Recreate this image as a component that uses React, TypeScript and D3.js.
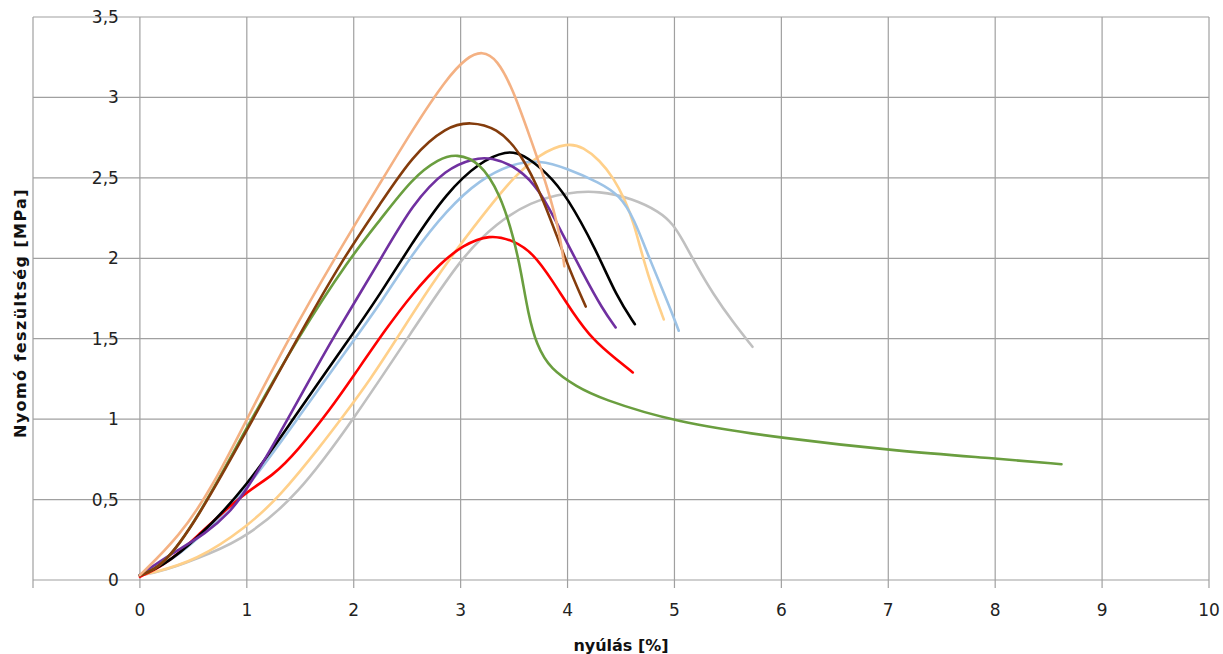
import React from "react";
import * as d3 from "d3";

type P = [number, number];

const xTicks = [0, 1, 2, 3, 4, 5, 6, 7, 8, 9, 10];
const yTicks = [0, 0.5, 1, 1.5, 2, 2.5, 3, 3.5];
const xTitle = "nyúlás [%]";
const yTitle = "Nyomó feszültség [MPa]";

const gray: P[] = [[0, 0.03], [0.2, 0.05], [0.68, 0.17], [1.0, 0.27], [1.47, 0.52], [2.0, 1.0], [2.55, 1.55], [3.01, 2.01], [3.34, 2.22], [3.65, 2.35], [3.99, 2.41], [4.3, 2.42], [4.61, 2.37], [4.86, 2.29], [4.99, 2.21], [5.08, 2.11], [5.21, 1.95], [5.36, 1.78], [5.55, 1.6], [5.73, 1.45]];
const lightOrange: P[] = [[0, 0.03], [0.09, 0.04], [0.53, 0.12], [1.0, 0.33], [1.31, 0.52], [1.71, 0.85], [1.88, 1.0], [2.15, 1.24], [2.45, 1.55], [2.71, 1.82], [3.0, 2.09], [3.27, 2.32], [3.49, 2.5], [3.74, 2.65], [4.0, 2.72], [4.15, 2.69], [4.3, 2.61], [4.43, 2.5], [4.54, 2.36], [4.62, 2.22], [4.71, 1.99], [4.8, 1.8], [4.9, 1.62]];
const lightBlue: P[] = [[0, 0.03], [0.2, 0.08], [0.53, 0.24], [1.0, 0.56], [1.47, 1.0], [2.01, 1.5], [2.25, 1.72], [2.55, 2.03], [2.87, 2.3], [3.18, 2.49], [3.49, 2.59], [3.74, 2.61], [3.99, 2.56], [4.3, 2.47], [4.49, 2.39], [4.62, 2.25], [4.77, 1.99], [4.93, 1.74], [5.04, 1.55]];
const red: P[] = [[0, 0.02], [0.19, 0.08], [0.37, 0.17], [0.53, 0.27], [0.97, 0.54], [1.25, 0.65], [1.47, 0.8], [1.78, 1.06], [2.0, 1.27], [2.31, 1.57], [2.55, 1.78], [2.81, 1.97], [3.02, 2.08], [3.27, 2.15], [3.5, 2.11], [3.68, 2.03], [3.86, 1.86], [4.05, 1.66], [4.24, 1.49], [4.46, 1.37], [4.61, 1.29]];
const black: P[] = [[0, 0.03], [0.2, 0.08], [0.53, 0.25], [1.0, 0.58], [1.43, 1.0], [1.96, 1.5], [2.25, 1.78], [2.55, 2.1], [2.87, 2.41], [3.18, 2.6], [3.43, 2.67], [3.58, 2.65], [3.81, 2.53], [3.99, 2.39], [4.27, 2.05], [4.46, 1.76], [4.63, 1.59]];
const purple: P[] = [[0, 0.03], [0.31, 0.17], [0.62, 0.29], [0.84, 0.42], [1.0, 0.56], [1.3, 0.9], [1.55, 1.2], [1.8, 1.5], [2.25, 1.99], [2.55, 2.34], [2.87, 2.56], [3.12, 2.62], [3.28, 2.63], [3.55, 2.56], [3.74, 2.42], [3.9, 2.22], [4.14, 1.91], [4.33, 1.68], [4.45, 1.57]];
const green: P[] = [[0, 0.03], [0.21, 0.08], [0.53, 0.37], [1.0, 0.95], [1.47, 1.5], [1.96, 2.0], [2.25, 2.24], [2.55, 2.5], [2.8, 2.62], [2.96, 2.65], [3.18, 2.6], [3.37, 2.4], [3.5, 2.12], [3.57, 1.9], [3.63, 1.66], [3.71, 1.46], [3.84, 1.31], [4.09, 1.2], [4.3, 1.13], [5.0, 0.98], [6.02, 0.88], [7.11, 0.8], [8.02, 0.755], [8.62, 0.72]];
const brown: P[] = [[0, 0.03], [0.21, 0.08], [0.53, 0.37], [1.0, 0.93], [1.47, 1.5], [1.9, 2.0], [2.25, 2.34], [2.55, 2.64], [2.87, 2.82], [3.09, 2.85], [3.34, 2.81], [3.55, 2.67], [3.77, 2.38], [3.99, 1.97], [4.17, 1.7]];
const peach: P[] = [[0, 0.03], [0.37, 0.27], [0.68, 0.58], [1.0, 1.0], [1.39, 1.5], [1.82, 2.0], [2.25, 2.47], [2.55, 2.8], [2.87, 3.12], [3.06, 3.25], [3.2, 3.29], [3.34, 3.24], [3.49, 3.05], [3.65, 2.75], [3.81, 2.45], [3.93, 2.15], [3.97, 1.95]];

const series: { data: P[]; color: string }[] = [
  { data: gray, color: "#C0C0C0" },
  { data: lightOrange, color: "#FFD08A" },
  { data: lightBlue, color: "#9DC3E6" },
  { data: red, color: "#FF0000" },
  { data: black, color: "#000000" },
  { data: purple, color: "#7030A0" },
  { data: green, color: "#6A9E3F" },
  { data: brown, color: "#843C0C" },
  { data: peach, color: "#F4B183" },
];

export default function App() {
  const W = 1223, H = 654;
  const x = d3.scaleLinear().domain([-1, 10]).range([33, 1209]);
  const y = d3.scaleLinear().domain([0, 3.5]).range([580, 17]);
  const line = d3.line<P>().x(d => x(d[0])).y(d => y(d[1])).curve(d3.curveBasis);
  const fmt = (v: number) => String(v).replace(".", ",");
  const gridX = d3.range(-1, 11);
  const font = "'DejaVu Sans', Verdana, sans-serif";
  return (
    <svg width={W} height={H} style={{ position: "absolute", left: 0, top: 0, background: "#fff" }} fontFamily={font}>
      <rect x={0} y={0} width={W} height={H} fill="#fff" />
      {gridX.map(v => (
        <line key={"gx" + v} x1={x(v)} x2={x(v)} y1={y(3.5)} y2={y(0) + 8} stroke="#A0A0A0" strokeWidth={1.2} />
      ))}
      {yTicks.map(v => (
        <line key={"gy" + v} x1={x(-1)} x2={x(10)} y1={y(v)} y2={y(v)} stroke="#A0A0A0" strokeWidth={1.2} />
      ))}
      {series.map((s, i) => (
        <path key={i} d={line(s.data) || ""} fill="none" stroke={s.color} strokeWidth={2.6} strokeLinejoin="round" strokeLinecap="round" />
      ))}
      {yTicks.map(v => (
        <text key={"ty" + v} x={x(0) - 21} y={y(v)} dy="0.35em" textAnchor="end" fontSize={17} fill="#222">{fmt(v)}</text>
      ))}
      {xTicks.map(v => (
        <text key={"tx" + v} x={x(v)} y={616} textAnchor="middle" fontSize={17} fill="#222">{fmt(v)}</text>
      ))}
      <text x={(x(-1) + x(10)) / 2} y={651} textAnchor="middle" fontSize={16} fontWeight="bold" fill="#111">{xTitle}</text>
      <text transform={`translate(26, 313) rotate(-90)`} textAnchor="middle" fontSize={16} letterSpacing={1.4} fontWeight="bold" fill="#111">{yTitle}</text>
    </svg>
  );
}
